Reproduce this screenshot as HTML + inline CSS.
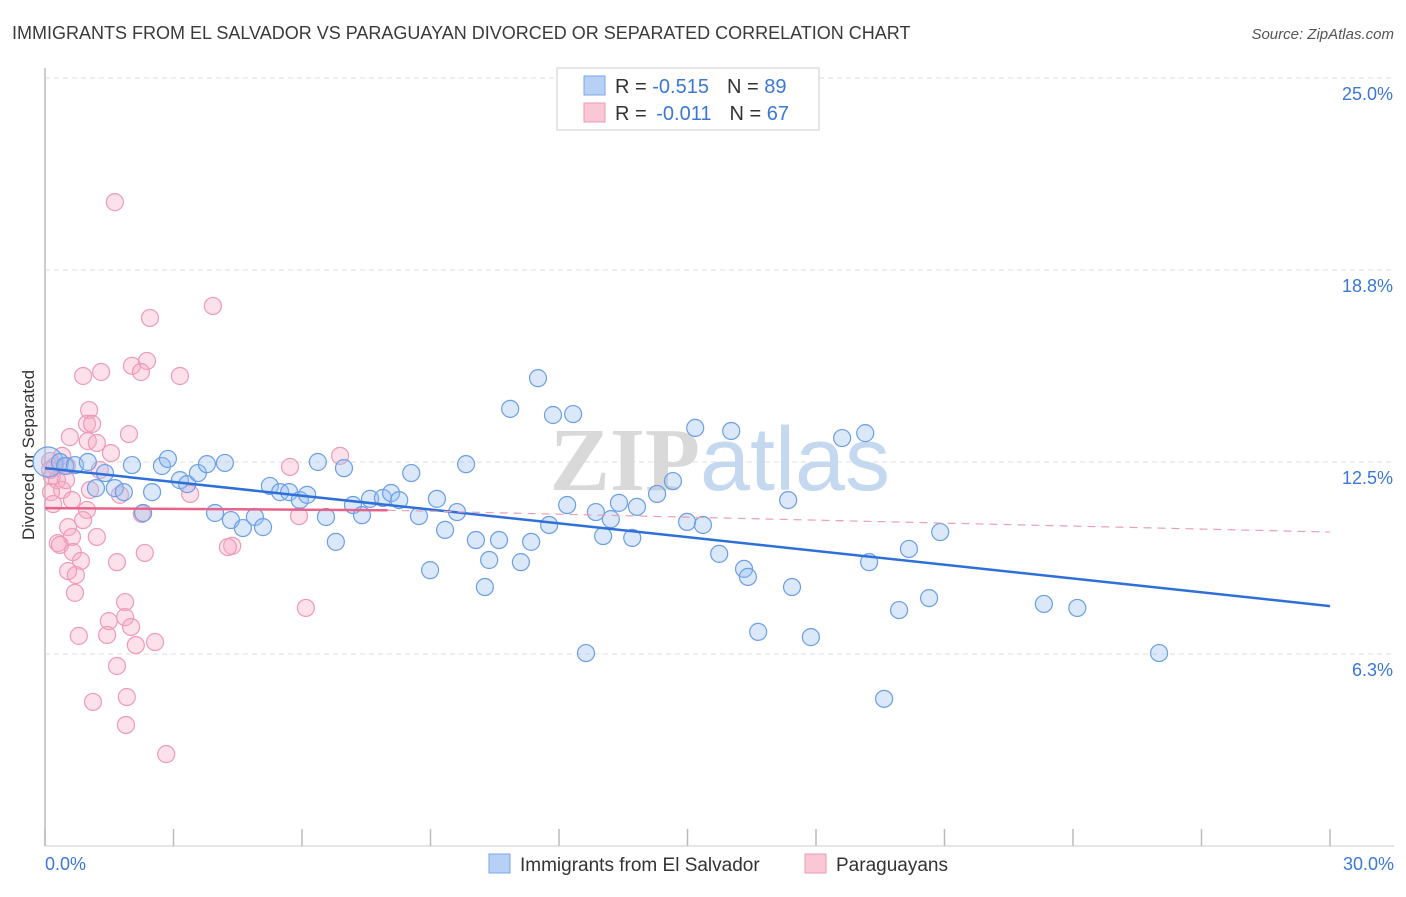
<!DOCTYPE html>
<html><head><meta charset="utf-8"><style>
body{margin:0;background:#fff;font-family:"Liberation Sans",sans-serif;}
svg text{font-family:"Liberation Sans",sans-serif;}
</style></head><body>
<svg id="chart" width="1406" height="892" xmlns="http://www.w3.org/2000/svg">
<text x="12" y="39" font-size="18" fill="#3a3a3a">IMMIGRANTS FROM EL SALVADOR VS PARAGUAYAN DIVORCED OR SEPARATED CORRELATION CHART</text>
<text x="1394" y="39" font-size="15" fill="#555" font-style="italic" text-anchor="end">Source: ZipAtlas.com</text>
<text transform="translate(34,455) rotate(-90)" font-size="17" fill="#333" text-anchor="middle">Divorced or Separated</text>
<g id="grid"></g>
<text x="720" y="490" font-size="90" text-anchor="middle"><tspan fill="#d9d9d9" font-family="Liberation Serif" font-weight="bold">ZIP</tspan><tspan fill="#c4d8f0">atlas</tspan></text>
<g id="marks"></g>
<g>
<rect x="557" y="68" width="262" height="62" fill="#fff" stroke="#ddd" stroke-width="1.5"/>
<rect x="584" y="76" width="21" height="19" fill="#b7d0f5" stroke="#7aa8e8"/>
<text x="615" y="93" font-size="20" fill="#333">R = <tspan fill="#3b77d6">-0.515</tspan><tspan dx="18">N = </tspan><tspan fill="#3b77d6">89</tspan></text>
<rect x="584" y="103" width="21" height="19" fill="#f9c7d5" stroke="#ee9ab3"/>
<text x="615" y="120" font-size="20" fill="#333">R = <tspan fill="#3b77d6" dx="4">-0.011</tspan><tspan dx="18">N = </tspan><tspan fill="#3b77d6">67</tspan></text>
</g>
<g>
<rect x="489" y="854" width="21" height="19" fill="#b7d0f5" stroke="#7aa8e8"/>
<text x="520" y="871" font-size="19" fill="#333">Immigrants from El Salvador</text>
<rect x="805" y="854" width="21" height="19" fill="#f9c7d5" stroke="#ee9ab3"/>
<text x="836" y="871" font-size="19" fill="#333">Paraguayans</text>
</g>
</svg>
<script>
const blueX=[0.07,0.35,0.47,0.70,1.00,1.19,1.40,1.63,1.84,2.03,2.29,2.50,2.73,2.87,3.15,3.32,3.57,3.78,3.97,4.20,4.34,4.62,4.90,5.09,5.25,5.49,5.70,5.95,6.12,6.37,6.56,6.79,6.98,7.19,7.40,7.59,7.89,8.08,8.27,8.55,8.73,8.99,9.15,9.34,9.62,9.83,10.06,10.37,10.27,10.60,10.86,11.11,11.35,11.51,11.77,11.86,12.19,12.33,12.63,12.86,13.03,13.21,13.40,13.71,13.82,14.29,14.66,14.99,15.18,15.36,15.74,16.02,16.32,16.41,16.65,17.35,17.44,17.88,18.61,19.15,19.24,19.59,19.94,20.17,20.64,20.90,23.32,24.10,26.01];
const blueY=[12.50,12.50,12.37,12.40,12.50,11.65,12.14,11.65,11.52,12.40,10.84,11.52,12.37,12.60,11.91,11.78,12.14,12.43,10.84,12.47,10.61,10.35,10.71,10.38,11.72,11.52,11.52,11.26,11.43,12.50,10.71,9.90,12.30,11.10,10.77,11.30,11.33,11.49,11.26,12.14,10.74,8.98,11.30,10.29,10.87,12.43,9.96,9.31,8.43,9.96,14.23,9.24,9.90,15.23,10.45,14.03,11.10,14.06,6.28,10.87,10.09,10.64,11.17,10.03,11.04,11.46,11.88,10.55,13.61,10.45,9.51,13.51,9.02,8.76,6.97,11.26,8.43,6.80,13.28,13.44,9.24,4.79,7.68,9.67,8.07,10.22,7.88,7.75,6.28];
const pinkX=[1.63,3.92,2.45,2.38,2.03,0.89,1.31,2.24,3.15,1.03,0.98,1.10,0.58,1.96,1.00,1.21,1.54,0.40,0.12,0.23,0.51,0.16,0.28,0.40,0.14,1.05,1.75,3.39,2.26,0.63,0.19,0.98,0.89,0.54,1.21,0.63,0.30,0.35,0.65,2.33,0.84,1.68,4.37,4.27,0.54,0.72,0.70,1.87,6.09,1.87,1.49,2.01,1.45,0.79,2.57,2.12,1.68,1.91,1.12,1.89,2.83,5.72,6.89,5.93,0.12,0.49,1.28];
const pinkY=[20.96,17.58,17.19,15.79,15.63,15.30,15.43,15.43,15.30,14.19,13.74,13.74,13.31,13.41,13.18,13.12,12.79,12.70,12.53,12.37,12.37,12.04,11.91,11.59,11.52,11.59,11.43,11.46,10.81,11.26,11.13,10.94,10.61,10.38,10.06,10.06,9.86,9.80,9.57,9.54,9.28,9.24,9.77,9.73,8.95,8.82,8.24,7.94,7.75,7.45,7.32,7.13,6.87,6.84,6.64,6.54,5.86,4.85,4.69,3.94,2.99,12.34,12.70,10.74,12.24,11.91,12.24];
const blueTrend=[[0,12.3],[30,7.81]];
const pinkTrend=[[0,11.0],[8,10.93],[30,10.22]];
const yTicks=[6.25,12.5,18.75,25];
const yTickLabels=["6.3%","12.5%","18.8%","25.0%"];
const xTicks=[0,3,6,9,12,15,18,21,24,27,30];

const NS="http://www.w3.org/2000/svg";
const xs=v=>45+v*(1330-45)/30;
const ys=v=>846-v*(846-78)/25;
function mk(tag,attrs,parent){const e=document.createElementNS(NS,tag);for(const k in attrs)e.setAttribute(k,attrs[k]);parent.appendChild(e);return e;}
const grid=document.getElementById('grid');
const marks=document.getElementById('marks');
yTicks.forEach((t,i)=>{
  const l=mk('line',{x1:45,x2:1394,y1:ys(t),y2:ys(t),stroke:'#ddd','stroke-dasharray':'5,4'},grid);
  
  
  const tx=mk('text',{x:1393,y:ys(t)+22,'font-size':18,fill:'#3b77d6','text-anchor':'end'},grid);
  
  
  tx.textContent=yTickLabels[i];
});
const ax=mk('line',{x1:45,x2:45,y1:68,y2:846,stroke:'#bbb','stroke-width':1.5},grid);


const bx=mk('line',{x1:45,x2:1394,y1:846,y2:846,stroke:'#ccc','stroke-width':1},grid);


xTicks.forEach(t=>{
  const l=mk('line',{x1:xs(t),x2:xs(t),y1:829,y2:846,stroke:'#bbb','stroke-width':1.5},grid);
  
  
});
const xl0=mk('text',{x:45,y:870,'font-size':18,fill:'#3b77d6'},grid);


xl0.textContent='0.0%';
const xl1=mk('text',{x:1394,y:870,'font-size':18,fill:'#3b77d6','text-anchor':'end'},grid);


xl1.textContent='30.0%';

pinkX.forEach((x,i)=>{
  const c=mk('circle',{cx:xs(x),cy:ys(pinkY[i]),r:8.5,fill:'rgba(246,170,195,0.35)',stroke:'#ef9ab5','stroke-width':1.2},marks);
  
  
});
blueX.forEach((x,i)=>{
  const c=mk('circle',{cx:xs(x),cy:ys(blueY[i]),r:i===0?15:8.5,fill:'rgba(150,190,240,0.35)',stroke:'#6b9ee6','stroke-width':1.2},marks);
  
  
});
const bl=mk('line',{x1:xs(blueTrend[0][0]),y1:ys(blueTrend[0][1]),x2:xs(blueTrend[1][0]),y2:ys(blueTrend[1][1]),stroke:'#2f6fd8','stroke-width':2.5},marks);


const pl=mk('line',{x1:xs(pinkTrend[0][0]),y1:ys(pinkTrend[0][1]),x2:xs(pinkTrend[1][0]),y2:ys(pinkTrend[1][1]),stroke:'#e8638c','stroke-width':2.5},marks);


const pd=mk('line',{x1:xs(pinkTrend[1][0]),y1:ys(pinkTrend[1][1]),x2:xs(pinkTrend[2][0]),y2:ys(pinkTrend[2][1]),stroke:'#e8a0b5','stroke-width':1.2,'stroke-dasharray':'8,6'},marks);


</script>
</body></html>
